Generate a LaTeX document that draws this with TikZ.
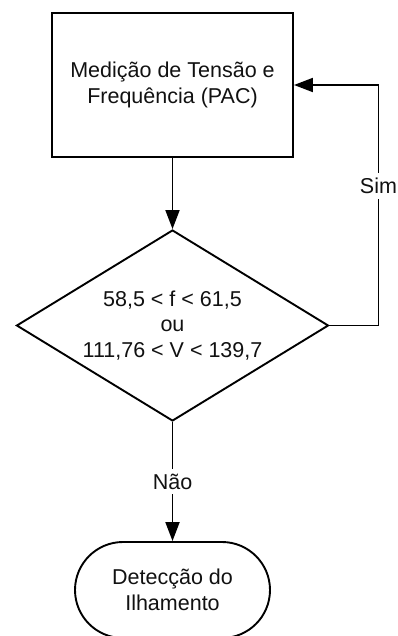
\documentclass[tikz,border=0pt]{standalone}
\usepackage{fontspec}
\setmainfont{Liberation Sans}
\usetikzlibrary{positioning,shapes.geometric,shapes.misc,arrows.meta}
\definecolor{lineblack}{HTML}{000000}
\definecolor{textblack}{HTML}{111111}
\tikzset{
  procbox/.style={draw=lineblack, line width=1.9pt, align=center, inner sep=0pt,
                  minimum width=241pt, minimum height=144pt},
  decbox/.style={diamond, aspect=1.63, draw=lineblack, line width=1.9pt, align=center, inner sep=0pt,
                 minimum width=312pt, minimum height=191pt},
  endbox/.style={rounded rectangle, draw=lineblack, line width=1.9pt, align=center, inner sep=0pt,
                 minimum width=195pt, minimum height=96pt},
  flow/.style={-{Triangle[length=19pt,width=14pt]}, draw=lineblack, line width=1.9pt},
  lbl/.style={fill=white, inner xsep=1pt, inner ysep=5pt},
}

\begin{document}
\begin{tikzpicture}[x=1pt, y=-1pt, text=textblack, font=\fontsize{21.5}{25.5}\selectfont]
  \def\cx{172.5}
  \useasboundingbox (0,0) rectangle (397,636);
  % blocks, top to bottom
  \node[procbox] (med) at (\cx,85) {Medição de Tensão e\\ Frequência (PAC)};
  \node[decbox] (cond) at (\cx,325.5) {58,5 < f < 61,5\\ ou\\ 111,76 < V < 139,7};
  \node[endbox] (det) at (\cx,590) {Detecção do\\ Ilhamento};
  % connectors
  \draw[flow] (med.south) -- (cond.north);
  \draw[flow] (cond.east) -- ++(49,0) |- node[lbl, pos=0.29] {Sim} (med.east);
  \draw[flow] (cond.south) -- node[lbl] {Não} (det.north);
\end{tikzpicture}
\end{document}
